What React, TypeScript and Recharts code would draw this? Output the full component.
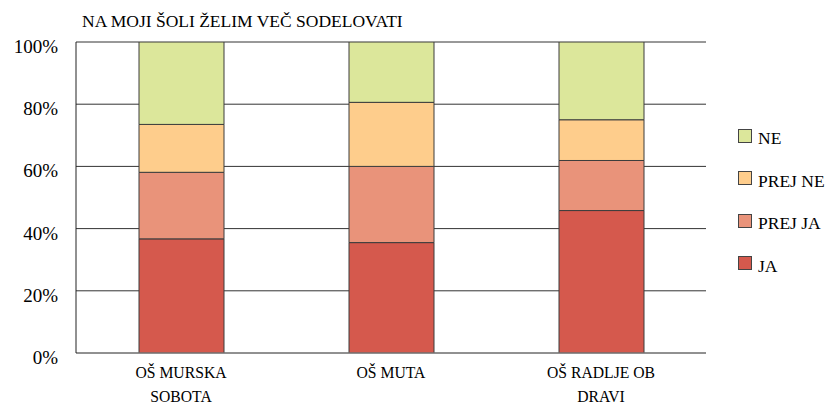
import { BarChart, Bar, XAxis, YAxis, CartesianGrid } from 'recharts';

const SERIF = 'Liberation Serif, Times New Roman, Times, DejaVu Serif, serif';

/* ── data ── */
const TITLE = 'NA MOJI ŠOLI ŽELIM VEČ SODELOVATI';
const CATEGORIES = ['OŠ MURSKA SOBOTA', 'OŠ MUTA', 'OŠ RADLJE OB DRAVI'];
const JA = [36.7, 35.5, 45.8];
const PREJ_JA = [21.4, 24.5, 16.1];
const PREJ_NE = [15.4, 20.6, 13.1];
const NE = [26.5, 19.4, 25.0];
const Y_TICKS = [0, 20, 40, 60, 80, 100];

// stacked bottom → top
const SERIES = [
  { key: 'ja', name: 'JA', values: JA, color: '#D5594D' },
  { key: 'prejJa', name: 'PREJ JA', values: PREJ_JA, color: '#E9937A' },
  { key: 'prejNe', name: 'PREJ NE', values: PREJ_NE, color: '#FECD8C' },
  { key: 'ne', name: 'NE', values: NE, color: '#DCE79B' },
];

const rows = CATEGORIES.map((c, i) => {
  const r: Record<string, number | string> = { cat: c };
  SERIES.forEach((s) => { r[s.key] = s.values[i]; });
  return r;
});

// greedy wrap of category names, ~12 chars per line
function wrap(label: string, max = 12) {
  const out: string[] = [];
  let cur = '';
  label.split(' ').forEach((w) => {
    if (cur && (cur + ' ' + w).length > max) { out.push(cur); cur = w; }
    else cur = cur ? cur + ' ' + w : w;
  });
  if (cur) out.push(cur);
  return out;
}

function CatTick({ x, y, payload }: any) {
  const lines = wrap(String(payload.value));
  return (
    <text x={x} y={y} textAnchor="middle" fontSize={15.7} fill="#000" style={{ fontFamily: SERIF }}>
      {lines.map((l, i) => <tspan key={i} x={x} dy={i === 0 ? 25 : 24}>{l}</tspan>)}
    </text>
  );
}

function PctTick({ x, y, payload }: any) {
  return (
    <text x={x} y={y} dy={11} textAnchor="end" fontSize={19} fill="#000" style={{ fontFamily: SERIF }}>
      {payload.value + '%'}
    </text>
  );
}

export default function App() {
  return (
    <div style={{ position: 'absolute', left: 0, top: 0, width: 827, height: 404, background: '#fff', fontFamily: SERIF }}>
      <div style={{ position: 'absolute', left: 82, top: 13, fontSize: 17.5, lineHeight: '17.5px', color: '#000', whiteSpace: 'nowrap' }}>
        {TITLE}
      </div>
      <BarChart width={827} height={404} data={rows} margin={{ top: 42, right: 121, bottom: 0, left: 0 }}
        style={{ fontFamily: SERIF }}>
        <CartesianGrid vertical={false} stroke="#333" />
        <XAxis dataKey="cat" height={51} tick={<CatTick />} tickLine={false} tickSize={0} tickMargin={0}
          axisLine={{ stroke: '#888' }} interval={0} />
        <YAxis domain={[0, 100]} ticks={Y_TICKS} width={76} tick={<PctTick />} tickLine={false}
          tickSize={0} tickMargin={18} axisLine={{ stroke: '#222' }} allowDataOverflow />
        <YAxis yAxisId="frame" orientation="right" domain={[0, 100]} width={0} tick={false}
          tickLine={false} axisLine={{ stroke: '#222' }} />
        {SERIES.map((s) => (
          <Bar key={s.key} dataKey={s.key} name={s.name} stackId="a" fill={s.color} stroke="#3c3c3c"
            strokeWidth={1} barSize={85} isAnimationActive={false} />
        ))}
      </BarChart>
      {/* legend, top item = top of stack */}
      {[...SERIES].reverse().map((s, i) => (
        <div key={s.key} style={{ position: 'absolute', left: 738, top: 130 + i * 42.6, height: 17.5 }}>
          <div style={{ position: 'absolute', left: 0, top: -1.5, width: 12, height: 12, background: s.color, border: '1px solid #444' }} />
          <div style={{ position: 'absolute', left: 20, top: 0, fontSize: 17.5, lineHeight: '17.5px', color: '#000', whiteSpace: 'nowrap' }}>
            {s.name}
          </div>
        </div>
      ))}
    </div>
  );
}
